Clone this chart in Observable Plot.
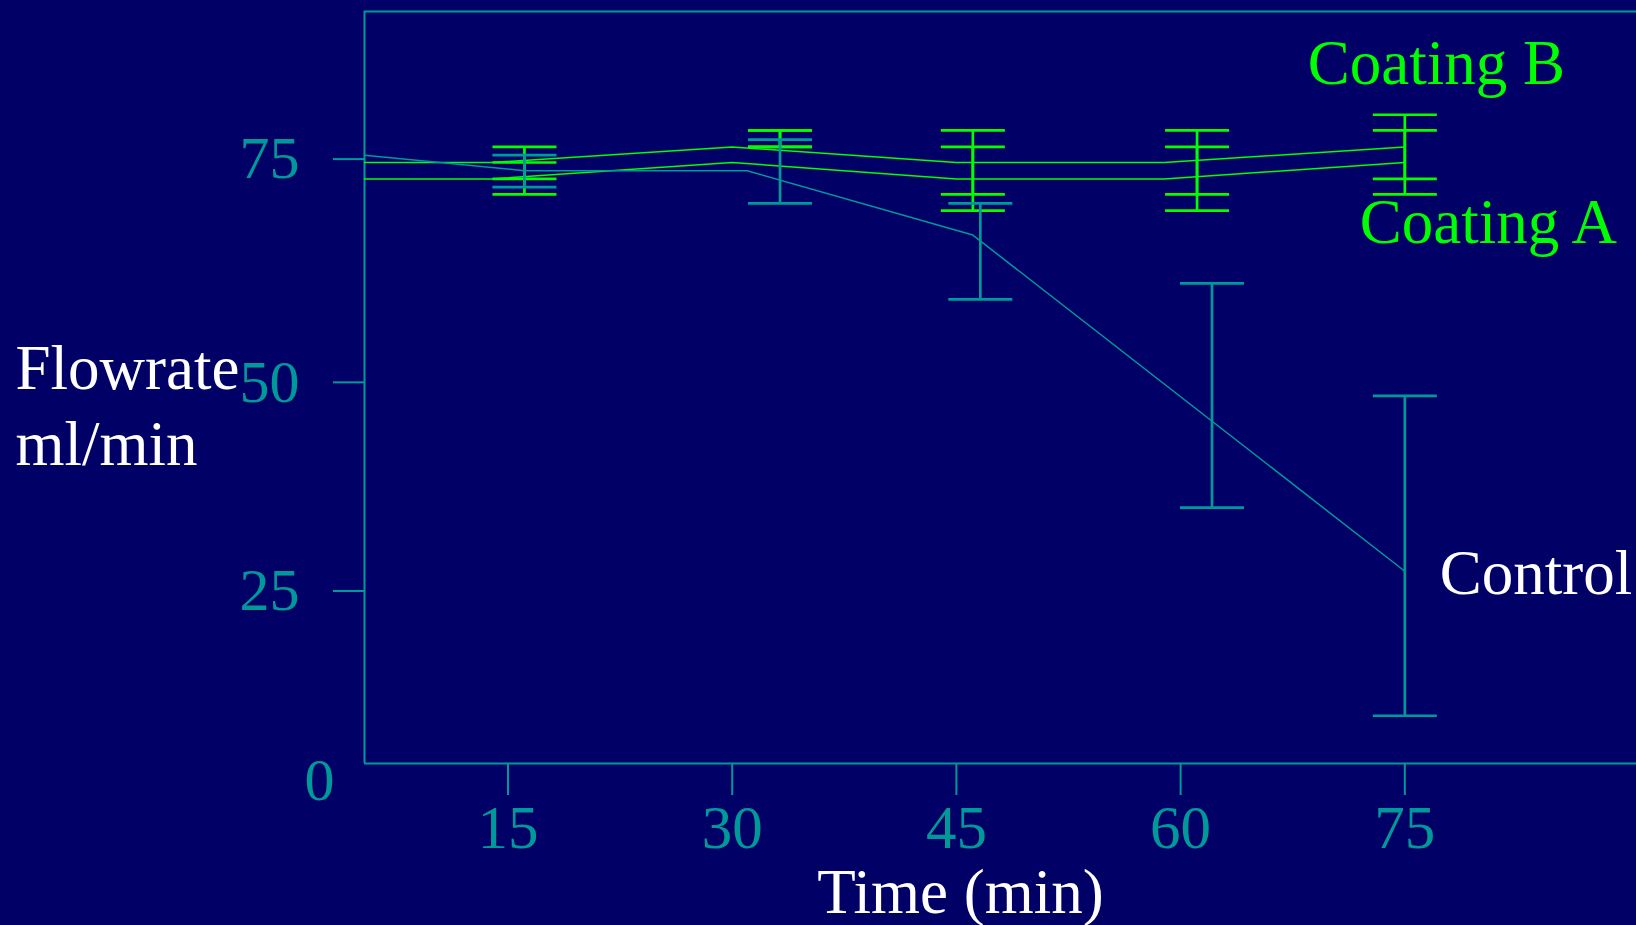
<!DOCTYPE html>
<html>
<head>
<meta charset="utf-8">
<script src="https://cdn.jsdelivr.net/npm/d3@7"></script>
<script src="https://cdn.jsdelivr.net/npm/@observablehq/plot@0.6"></script>
<style>
  html, body { margin: 0; padding: 0; background: #000066; overflow: hidden; }
</style>
</head>
<body>
<div id="chart"></div>
<script>
// ---- data ----
const xTicks = [15, 30, 45, 60, 75];
const yTicks = [25, 50, 75];
const yZeroTick = [0];
const xDomain = [5.4, 90.5];
const yDomain = [0, 90.6];

// lines
const coatLineT = [5.4, 13.9, 30, 45, 58.9, 75];
const coatBV    = [74.3, 74.3, 76.0, 74.3, 74.3, 76.0];
const coatAV    = [72.5, 72.5, 74.3, 72.5, 72.5, 74.3];
const ctrlLineT = [5.4, 16.1, 31.0, 46.1, 75];
const ctrlLineV = [75.1, 73.4, 73.4, 66.3, 27.1];

// error bars
const coatBarT = [16.1, 33.2, 46.1, 61.1, 75];
const coatBLo  = [72.5, 76.0, 70.8, 70.8, 72.5];
const coatBHi  = [76.0, 77.8, 77.8, 77.8, 79.5];
const coatALo  = [70.8, 76.0, 69.0, 69.0, 70.8];
const coatAHi  = [74.3, 77.8, 76.0, 76.0, 77.8];
const ctrlBarT = [16.1, 33.2, 46.6, 62.1, 75];
const ctrlLo   = [71.6, 69.8, 59.1, 34.9, 7.9];
const ctrlHi   = [75.1, 76.8, 69.8, 60.9, 48.1];

const seriesNames = ["Coating B", "Coating A", "Control"];
const xLabel = "Time (min)";
const yLabel = "Flowrate\nml/min";

// ---- styles ----
const NAVY = "#000066", TEAL = "#009999", GREEN = "#00ff00", WHITE = "#ffffff";
const FONT = "'Liberation Serif', 'Times New Roman', Times, serif";

const toLine = (ts, vs) => ts.map((t, i) => ({t, v: vs[i]}));
const toBars = (ts, lo, hi) => ts.map((t, i) => ({t, lo: lo[i], hi: hi[i]}));

const lineB = toLine(coatLineT, coatBV);
const lineA = toLine(coatLineT, coatAV);
const lineC = toLine(ctrlLineT, ctrlLineV);
const barsB = toBars(coatBarT, coatBLo, coatBHi);
const barsA = toBars(coatBarT, coatALo, coatAHi);
const barsC = toBars(ctrlBarT, ctrlLo, ctrlHi);

// horizontal-line symbol for error bar caps
const hline = {
  draw(ctx, size) {
    const r = Math.sqrt(size / Math.PI);
    ctx.moveTo(-r, 0);
    ctx.lineTo(r, 0);
  }
};

function errorBars(bars, color) {
  const caps = bars.flatMap(d => [{t: d.t, v: d.lo}, {t: d.t, v: d.hi}]);
  return [
    Plot.ruleX(bars, {x: "t", y1: "lo", y2: "hi", stroke: color, strokeWidth: 2.7}),
    Plot.dot(caps, {x: "t", y: "v", symbol: hline, r: 32, fill: "none", stroke: color, strokeWidth: 2.7})
  ];
}

const last = arr => [arr[arr.length - 1]];

const chart = Plot.plot({
  width: 1636,
  height: 925,
  marginLeft: 364,
  marginRight: 0,
  marginTop: 11,
  marginBottom: 162,
  style: {background: NAVY, color: TEAL, fontFamily: FONT, overflow: "visible"},
  x: {domain: xDomain},
  y: {type: "pow", exponent: 1.13, domain: yDomain},
  marks: [
    // frame (left, top, bottom)
    Plot.ruleX([xDomain[0]], {stroke: TEAL, strokeWidth: 2}),
    Plot.ruleY([yDomain[1]], {stroke: TEAL, strokeWidth: 2}),
    Plot.ruleY([yDomain[0]], {stroke: TEAL, strokeWidth: 2}),
    // axes
    Plot.axisX({ticks: xTicks, tickSize: 32, tickPadding: 9, strokeWidth: 2, fontSize: 61, fontFamily: FONT, label: null, tickFormat: d => String(d)}),
    Plot.axisY({ticks: yTicks, tickSize: 31, tickPadding: 34, strokeWidth: 2, fontSize: 60, fontFamily: FONT, label: null, dy: 3, tickFormat: d => String(d)}),
    Plot.axisY({ticks: yZeroTick, tickSize: 0, tickPadding: 30, fontSize: 60, fontFamily: FONT, label: null, dy: 17, tickFormat: d => String(d)}),
    // coatings
    Plot.line(lineB, {x: "t", y: "v", stroke: GREEN, strokeWidth: 1.5}),
    Plot.line(lineA, {x: "t", y: "v", stroke: GREEN, strokeWidth: 1.5}),
    ...errorBars(barsB, GREEN),
    ...errorBars(barsA, GREEN),
    // control
    Plot.line(lineC, {x: "t", y: "v", stroke: TEAL, strokeWidth: 1.5}),
    ...errorBars(barsC, TEAL),
    // series labels
    Plot.text(last(lineB), {x: "t", y: "v", text: () => seriesNames[0], textAnchor: "start", lineAnchor: "bottom", dx: -97, dy: -63, fill: GREEN, fontSize: 63, fontFamily: FONT}),
    Plot.text(last(lineA), {x: "t", y: "v", text: () => seriesNames[1], textAnchor: "start", lineAnchor: "bottom", dx: -45, dy: 81, fill: GREEN, fontSize: 63, fontFamily: FONT}),
    Plot.text(last(lineC), {x: "t", y: "v", text: () => seriesNames[2], textAnchor: "start", lineAnchor: "bottom", dx: 35, dy: 23, fill: WHITE, fontSize: 63, fontFamily: FONT}),
    // axis titles
    Plot.text([xLabel], {text: d => d, frameAnchor: "bottom", lineAnchor: "bottom", dx: -40, dy: 149, fill: WHITE, fontSize: 63, fontFamily: FONT}),
    Plot.text([yLabel], {text: d => d, frameAnchor: "left", textAnchor: "start", lineAnchor: "bottom", lineHeight: 1.2, dx: -349, dy: 77, fill: WHITE, fontSize: 63, fontFamily: FONT})
  ]
});

document.getElementById("chart").appendChild(chart);
</script>
</body>
</html>
